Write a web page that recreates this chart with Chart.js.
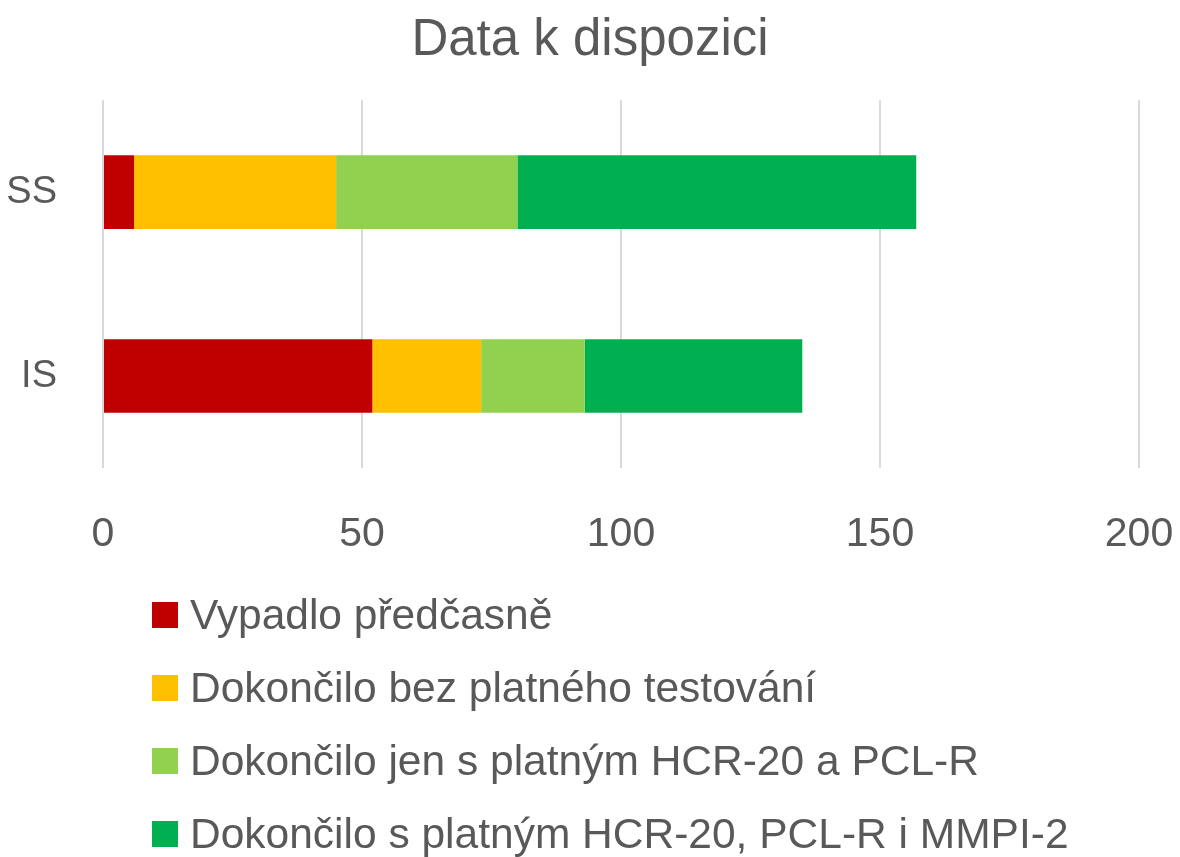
<!DOCTYPE html>
<html>
<head>
<meta charset="utf-8">
<script src="https://cdn.jsdelivr.net/npm/chart.js@4/dist/chart.umd.min.js"></script>
<style>
    html, body { margin: 0; padding: 0; background: #fff; overflow: hidden; }
    #wrap { position: relative; width: 1180px; height: 857px; }
    #chart-box { position: absolute; left: 0; top: 0; width: 1180px; height: 580px; }
    #legend { position: absolute; left: 152px; top: 578px; font-family: "Liberation Sans", Arial, sans-serif; font-size: 42.5px; color: #595959; }
    #legend .item { height: 73px; display: flex; align-items: center; white-space: nowrap; }
    #legend .box { width: 26px; height: 26px; margin-right: 12px; flex: none; }
</style>
</head>
<body>
<div id="wrap">
    <div id="chart-box"><canvas id="bar-chart" width="1180" height="580"></canvas></div>
    <div id="legend"></div>
</div>
<script>
const categories = ["SS", "IS"];
const seriesNames = [
    "Vypadlo předčasně",
    "Dokončilo bez platného testování",
    "Dokončilo jen s platným HCR-20 a PCL-R",
    "Dokončilo s platným HCR-20, PCL-R i MMPI-2"
];
const vypadlo = [6, 52];
const bezTestovani = [39, 21];
const jenHcrPcl = [35, 20];
const vseplatne = [77, 42];
const seriesColors = ["#C00000", "#FFC000", "#92D050", "#00B050"];
const xTicks = [0, 50, 100, 150, 200];

const textColor = "#595959";
const fontFamily = '"Liberation Sans", Arial, sans-serif';

const seriesValues = [vypadlo, bezTestovani, jenHcrPcl, vseplatne];
const datasets = seriesNames.map((name, i) => ({
    label: name,
    data: seriesValues[i],
    backgroundColor: seriesColors[i],
    borderWidth: 0,
    categoryPercentage: 0.4,
    barPercentage: 1.0
}));

const ctx = document.getElementById("bar-chart").getContext("2d");
const chart = new Chart(ctx, {
    type: 'bar',
    data: { labels: categories, datasets: datasets },
    options: {
        indexAxis: 'y',
        responsive: false,
        animation: false,
        layout: { padding: 0 },
        plugins: {
            legend: { display: false },
            tooltip: { enabled: false },
            title: {
                display: true,
                text: "Data k dispozici",
                color: textColor,
                font: { family: fontFamily, size: 51, weight: 'normal', lineHeight: 1.2 },
                padding: { top: 10, bottom: 29 }
            }
        },
        scales: {
            x: {
                stacked: true,
                min: 0,
                max: 200,
                afterBuildTicks: scale => { scale.ticks = xTicks.map(v => ({ value: v })); },
                afterFit: scale => {
                    scale.height = 112;
                    scale.paddingLeft = 0;
                    scale.paddingRight = 41;
                },
                grid: { color: "#d9d9d9", lineWidth: 2, drawTicks: false },
                border: { display: false },
                ticks: {
                    color: textColor,
                    padding: 42,
                    font: { family: fontFamily, size: 41 }
                }
            },
            y: {
                stacked: true,
                afterFit: scale => { scale.width = 103; },
                grid: { display: false, drawTicks: false },
                border: { display: false },
                ticks: {
                    color: textColor,
                    padding: 46,
                    font: { family: fontFamily, size: 38 }
                }
            }
        }
    }
});

// legend as a vertical list under the chart
const legendEl = document.getElementById("legend");
chart.data.datasets.forEach(ds => {
    const item = document.createElement("div");
    item.className = "item";
    item.innerHTML = `<span class="box" style="background:${ds.backgroundColor}"></span><span>${ds.label}</span>`;
    legendEl.appendChild(item);
});
</script>
</body>
</html>
